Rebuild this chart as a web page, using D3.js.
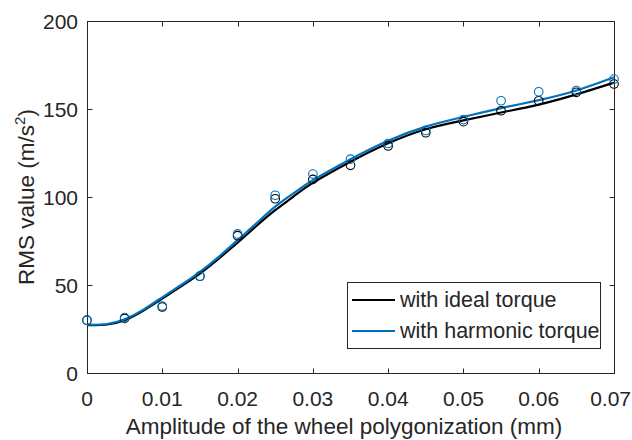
<!DOCTYPE html>
<html><head><meta charset="utf-8">
<script src="https://cdn.jsdelivr.net/npm/d3@7/dist/d3.min.js"></script>
<style>body{margin:0;background:#fff}text{font-family:"Liberation Sans",Arial,sans-serif;fill:#262626}</style>
</head><body>
<svg id="c" width="632" height="440"></svg>
<script>
const xTicks = [0,0.01,0.02,0.03,0.04,0.05,0.06,0.07];
const yTicks = [0,50,100,150,200];
const amp = [0,0.005,0.01,0.015,0.02,0.025,0.03,0.035,0.04,0.045,0.05,0.055,0.06,0.065,0.07];
const idealPts    = [30,31,37.5,55,78,99,110,118,129,136.5,142.8,149,154.7,159.5,164.2];
const harmonicPts = [30,31.5,38,55,79,101,113,121.5,130.4,137.8,144,154.7,159.8,160.5,167];
const fitX = [0,0.0025,0.005,0.0075,0.01,0.0125,0.015,0.0175,0.02,0.0225,0.025,0.0275,0.03,0.035,0.04,0.045,0.05,0.055,0.06,0.065,0.07];
const idealFit    = [27.2,27.4,30,35.5,42.3,49.3,56.5,65,74,83.5,92.5,100.5,108,120,130.5,138.5,143.5,148,152.5,158.3,165];
const harmonicFit = [27.5,27.7,30.5,36,43,50,57.5,66,75.5,85,94.5,102.3,109.5,121.5,132,140,145.5,150.5,155,160.5,168];
const series = ["with ideal torque","with harmonic torque"];
const colors = ["#000000","#0072BD"];

const svg = d3.select("#c");
const L=87, R=614, T=21, B=373;
const x = d3.scaleLinear().domain([0,0.07]).range([L,R]);
const y = d3.scaleLinear().domain([0,200]).range([B,T]);
const axCol = "#262626";
const tickFs = 21, labFs = 22.5, legFs = 21.5;

// box
svg.append("rect").attr("x",L+0.5).attr("y",T+0.5).attr("width",R-L).attr("height",B-T)
  .attr("fill","none").attr("stroke",axCol).attr("stroke-width",1);

// ticks inside
const tl = 5;
xTicks.forEach(t=>{
  const px = Math.round(x(t))+0.5;
  svg.append("line").attr("x1",px).attr("x2",px).attr("y1",B+0.5).attr("y2",B+0.5-tl).attr("stroke",axCol);
  svg.append("line").attr("x1",px).attr("x2",px).attr("y1",T+0.5).attr("y2",T+0.5+tl).attr("stroke",axCol);
  const tx = svg.append("text").attr("x",x(t)).attr("y",B+33).attr("text-anchor","middle").attr("font-size",tickFs)
    .text(t===0?"0":d3.format(".2f")(t));
  const w = tx.node().getComputedTextLength();
  if (x(t)+w/2 > 631) tx.attr("x", 631 - w/2);
});
yTicks.forEach(t=>{
  const py = Math.round(y(t))+0.5;
  svg.append("line").attr("x1",L+0.5).attr("x2",L+0.5+tl).attr("y1",py).attr("y2",py).attr("stroke",axCol);
  svg.append("line").attr("x1",R+0.5).attr("x2",R+0.5-tl).attr("y1",py).attr("y2",py).attr("stroke",axCol);
  svg.append("text").attr("x",L-9).attr("y",y(t)+8).attr("text-anchor","end").attr("font-size",tickFs).text(t);
});

// axis labels
svg.append("text").attr("x",344).attr("y",434).attr("text-anchor","middle").attr("font-size",labFs)
  .text("Amplitude of the wheel polygonization (mm)");
const yl = svg.append("text").attr("transform","translate(34,197) rotate(-90)")
  .attr("text-anchor","middle").attr("font-size",labFs);
yl.append("tspan").text("RMS value (m/s");
yl.append("tspan").attr("dy",-9).attr("font-size",15).text("2");
yl.append("tspan").attr("dy",9).text(")");

// fitted curves
const line = d3.line().x(d=>x(d[0])).y(d=>y(d[1])).curve(d3.curveNatural);
[idealFit,harmonicFit].forEach((f,i)=>{
  svg.append("path").attr("d",line(fitX.map((v,j)=>[v,f[j]])))
    .attr("fill","none").attr("stroke",colors[i]).attr("stroke-width",2.2);
});
// points
[idealPts,harmonicPts].forEach((p,i)=>{
  svg.append("g").selectAll("circle").data(amp.map((v,j)=>[v,p[j]])).join("circle")
    .attr("cx",d=>x(d[0])).attr("cy",d=>y(d[1])).attr("r",4.3)
    .attr("fill","none").attr("stroke",colors[i]).attr("stroke-width",1.1);
});

// legend
const lg = svg.append("g");
lg.append("rect").attr("x",347.5).attr("y",282.5).attr("width",253).attr("height",66)
  .attr("fill","#fff").attr("stroke",axCol).attr("stroke-width",1);
series.forEach((s,i)=>{
  const yy = 300 + i*31;
  lg.append("line").attr("x1",352).attr("x2",395).attr("y1",yy).attr("y2",yy)
    .attr("stroke",colors[i]).attr("stroke-width",2.2);
  lg.append("text").attr("x",400).attr("y",yy+7).attr("font-size",legFs).text(s);
});
</script>
</body></html>
